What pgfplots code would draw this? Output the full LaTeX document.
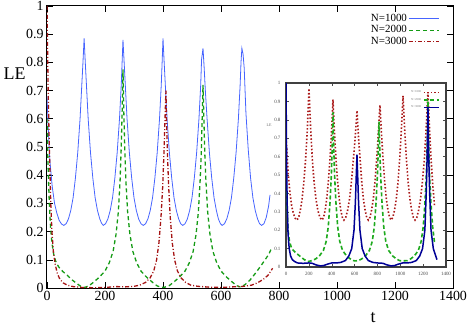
\documentclass[border=0pt]{standalone}
\usepackage{pgfplots}
\pgfplotsset{compat=1.18}
\usepackage{fontspec}
\setmainfont{Liberation Serif}

\definecolor{cblue}{RGB}{70,100,255}
\definecolor{cgreen}{RGB}{20,155,20}
\definecolor{cred}{RGB}{165,20,20}
\definecolor{inred}{RGB}{170,25,25}
\definecolor{ingreen}{RGB}{30,170,30}
\definecolor{innavy}{RGB}{0,0,150}

\begin{document}
\begin{tikzpicture}
% main plot
\begin{axis}[
    name=main, at={(0,0)}, anchor=south west,
    width=406bp, height=282bp, scale only axis,
    xmin=0, xmax=1400, ymin=0, ymax=1,
    xtick={0,200,400,600,800,1000,1200,1400},
    ytick={0,0.1,0.2,0.3,0.4,0.5,0.6,0.7,0.8,0.9,1},
    tick align=inside, major tick length=6bp,
    tick style={black, line width=0.6bp},
    axis line style={black, line width=1bp},
    /pgf/number format/assume math mode=true,
    /pgf/number format/1000 sep={},
    tick label style={font=\fontsize{14}{14}\selectfont},
    xlabel={t}, ylabel={LE},
    every axis y label/.style={at={(axis description cs:0,0.76)}, anchor=east, xshift=-18bp, font=\fontsize{18}{18}\selectfont},
    every axis x label/.style={at={(axis description cs:0.803,0)}, anchor=north, yshift=-21bp, font=\fontsize{18}{18}\selectfont},
    legend style={draw=none, fill=none, at={(0.975,0.985)}, anchor=north east,
        font=\fontsize{11}{11}\selectfont, row sep=-1.5bp},
    legend cell align=right, legend plot pos=right,
    legend image code/.code={\draw[#1, line width=0.7bp] (0bp,0bp) -- (30bp,0bp);},
]
\addplot[cblue, line width=0.8bp] coordinates {
(0,0.68)(5,0.55)(10,0.45)(18,0.36)(26,0.30)(34,0.265)(42,0.24)(50,0.227)(58,0.222)
(66,0.228)(74,0.245)(82,0.275)(90,0.32)(98,0.39)(106,0.48)(114,0.6)(120,0.72)(124,0.80)(128,0.885)
(132,0.80)(136,0.72)(142,0.6)(150,0.48)(158,0.39)(166,0.32)(174,0.275)(182,0.245)(188,0.23)(194,0.222)
(202,0.228)(210,0.245)(218,0.275)(226,0.32)(234,0.39)(242,0.48)(250,0.6)(256,0.72)(259,0.80)(262,0.88)
(266,0.80)(270,0.72)(276,0.6)(284,0.48)(292,0.39)(300,0.32)(308,0.275)(316,0.245)(324,0.228)(332,0.222)
(340,0.228)(348,0.245)(356,0.275)(364,0.32)(372,0.39)(380,0.48)(388,0.6)(394,0.72)(397,0.80)(400,0.885)
(404,0.80)(408,0.72)(414,0.6)(422,0.48)(430,0.39)(438,0.32)(446,0.275)(454,0.245)(461,0.228)(468,0.222)
(476,0.228)(484,0.245)(492,0.275)(500,0.32)(508,0.39)(516,0.48)(524,0.6)(530,0.72)(533,0.81)(538,0.85)
(542,0.78)(546,0.70)(552,0.6)(560,0.48)(568,0.39)(576,0.32)(584,0.275)(591,0.245)(598,0.228)(604,0.222)
(612,0.228)(620,0.245)(628,0.275)(636,0.32)(644,0.39)(652,0.48)(660,0.6)(666,0.72)(669,0.80)(672,0.85)
(676,0.83)(680,0.78)(686,0.62)(694,0.49)(702,0.39)(710,0.32)(718,0.275)(726,0.245)(733,0.228)(740,0.222)
(748,0.228)(756,0.25)(764,0.29)(769,0.33)
};
\addlegendentry{N=1000}
\addplot[cgreen, line width=1.3bp, dash pattern=on 4bp off 3bp] coordinates {
(0,0.6)(4,0.42)(8,0.3)(12,0.22)(17,0.16)(23,0.12)(30,0.095)(40,0.075)(55,0.058)(70,0.045)(85,0.03)(100,0.018)(115,0.007)(130,0.002)
(145,0.008)(160,0.02)(180,0.038)(200,0.06)(215,0.09)(228,0.13)(238,0.19)(246,0.27)(252,0.38)(256,0.5)(259,0.62)(262,0.775)
(265,0.62)(268,0.5)(272,0.38)(278,0.27)(286,0.19)(296,0.13)(309,0.09)(324,0.06)(344,0.038)(364,0.02)(379,0.008)(394,0.002)
(406,0.003)(421,0.008)(436,0.02)(456,0.038)(476,0.06)(491,0.09)(504,0.13)(514,0.19)(522,0.27)(528,0.38)(532,0.48)(535,0.6)(538,0.72)
(541,0.6)(544,0.48)(548,0.38)(554,0.27)(562,0.19)(572,0.13)(585,0.09)(600,0.06)(620,0.038)(640,0.02)(655,0.008)(668,0.003)
(683,0.012)(700,0.028)(717,0.05)(735,0.075)(752,0.1)(765,0.12)(776,0.145)
};
\addlegendentry{N=2000}
\addplot[cred, line width=1.3bp, dash pattern=on 4bp off 2bp on 1bp off 2bp] coordinates {
(0,1.0)(2,0.85)(4,0.7)(7,0.55)(10,0.42)(13,0.3)(17,0.2)(22,0.13)(28,0.085)(36,0.05)(45,0.03)(56,0.018)(70,0.01)(90,0.005)
(120,0.002)(160,0.001)(200,0.002)(240,0.005)(270,0.004)(300,0.006)(320,0.01)(340,0.02)(355,0.035)(368,0.06)(378,0.1)
(386,0.16)(393,0.25)(399,0.36)(404,0.5)(410,0.7)(414,0.52)(419,0.37)(425,0.25)(432,0.16)(440,0.1)(450,0.06)(463,0.035)
(478,0.02)(496,0.01)(520,0.006)(560,0.003)(600,0.002)(640,0.004)(680,0.006)(705,0.01)(725,0.018)(745,0.03)(762,0.045)(778,0.07)
};
\addlegendentry{N=3000}
\end{axis}

% inset
\begin{axis}[
    name=inset, at={(239bp,21bp)}, anchor=south west,
    width=160bp, height=184bp, scale only axis,
    axis background/.style={fill=white},
    xmin=0, xmax=1400, ymin=0, ymax=1,
    xtick={0,200,400,600,800,1000,1200,1400},
    ytick={0,0.1,0.2,0.3,0.4,0.5,0.6,0.7,0.8,0.9,1},
    tick align=inside, major tick length=3bp,
    tick style={black!70, line width=0.4bp},
    axis line style={black!75, line width=1.3bp},
    /pgf/number format/assume math mode=true,
    /pgf/number format/1000 sep={},
    tick label style={font=\fontsize{5}{5}\selectfont, black!70},
    xticklabel shift=2bp, yticklabel shift=2bp,
    ylabel={LE},
    every axis y label/.style={at={(axis description cs:0,0.77)}, anchor=east, xshift=-11bp, font=\fontsize{4}{4}\selectfont, black!60},
    legend style={draw=none, fill=none, at={(0.98,0.98)}, anchor=north east,
        font=\fontsize{3}{3}\selectfont, text=black!50, row sep=0bp},
    legend cell align=right, legend plot pos=right,
    legend image code/.code={\draw[#1] (0bp,0bp) -- (15bp,0bp);},
]
\addplot[inred, line width=1.6bp, dash pattern=on 1.5bp off 2bp] coordinates {
(0,0.72)(10,0.6)(20,0.5)(35,0.4)(50,0.33)(65,0.29)(80,0.265)(96,0.255)
(111,0.27)(126,0.31)(141,0.37)(156,0.46)(171,0.58)(186,0.74)(201,0.97)
(215,0.76)(230,0.59)(246,0.46)(262,0.37)(278,0.31)(296,0.27)(315,0.255)
(329,0.27)(343,0.31)(356,0.37)(370,0.46)(384,0.58)(397,0.72)(411,0.91)
(425,0.72)(438,0.58)(452,0.46)(466,0.37)(479,0.31)(493,0.27)(507,0.255)
(523,0.27)(540,0.31)(556,0.37)(572,0.46)(589,0.58)(605,0.7)(621,0.85)
(635,0.7)(649,0.58)(663,0.46)(677,0.37)(692,0.31)(706,0.27)(720,0.255)
(735,0.27)(749,0.31)(764,0.37)(778,0.46)(793,0.58)(807,0.72)(822,0.88)
(836,0.72)(850,0.58)(864,0.46)(878,0.37)(892,0.31)(906,0.27)(920,0.255)
(935,0.27)(950,0.31)(965,0.37)(980,0.46)(994,0.58)(1009,0.74)(1024,0.93)
(1039,0.74)(1054,0.58)(1069,0.46)(1084,0.37)(1099,0.31)(1114,0.27)(1129,0.255)
(1145,0.27)(1161,0.31)(1177,0.37)(1193,0.46)(1210,0.58)(1226,0.75)(1242,0.95)
(1256,0.75)(1270,0.58)(1285,0.44)(1300,0.33)
};
\addlegendentry{N=1000}
\addplot[ingreen, line width=1.6bp, dash pattern=on 4bp off 2.5bp] coordinates {
(0,0.55)(8,0.35)(18,0.2)(30,0.14)(50,0.1)(80,0.08)(120,0.06)(160,0.04)(192,0.03)
(232,0.035)(262,0.045)(292,0.06)(327,0.09)(352,0.14)(370,0.22)(385,0.35)(397,0.5)(405,0.67)(411,0.84)
(417,0.67)(425,0.5)(437,0.35)(452,0.22)(470,0.14)(495,0.09)(530,0.06)(560,0.045)(590,0.035)(605,0.033)
(635,0.035)(665,0.045)(695,0.06)(730,0.09)(755,0.14)(773,0.22)(788,0.35)(800,0.5)(808,0.65)(814,0.79)
(820,0.65)(828,0.5)(840,0.35)(855,0.22)(873,0.14)(898,0.09)(933,0.06)(963,0.045)(993,0.035)(1015,0.033)
(1063,0.035)(1093,0.045)(1123,0.06)(1158,0.09)(1183,0.14)(1201,0.22)(1216,0.35)(1228,0.5)(1236,0.68)(1242,0.9)
(1248,0.68)(1256,0.5)(1268,0.35)(1283,0.22)(1300,0.13)
};
\addlegendentry{N=2000}
\addplot[innavy, line width=1.5bp] coordinates {
(0,1.0)(5,0.6)(10,0.35)(18,0.18)(28,0.1)(40,0.06)(55,0.04)(75,0.03)(100,0.022)(150,0.02)(200,0.022)(230,0.02)
(260,0.012)(300,0.006)(330,0.008)(360,0.015)(400,0.022)(440,0.022)(480,0.025)(520,0.035)(550,0.06)(575,0.1)
(595,0.2)(607,0.35)(615,0.5)(621,0.61)(627,0.5)(635,0.35)(647,0.2)(667,0.1)(692,0.06)(720,0.035)(760,0.025)
(800,0.022)(850,0.02)(880,0.012)(920,0.006)(950,0.008)(980,0.015)(1020,0.022)(1060,0.022)(1100,0.025)
(1140,0.035)(1170,0.06)(1195,0.1)(1215,0.2)(1227,0.4)(1235,0.6)(1242,0.87)(1249,0.6)(1257,0.4)(1269,0.2)
(1289,0.1)(1310,0.06)(1321,0.04)
};
\addlegendentry{N=3000}
\end{axis}
\pgfresetboundingbox
\path[use as bounding box] (-47bp,-39bp) rectangle (422bp,288bp);
\end{tikzpicture}
\end{document}
